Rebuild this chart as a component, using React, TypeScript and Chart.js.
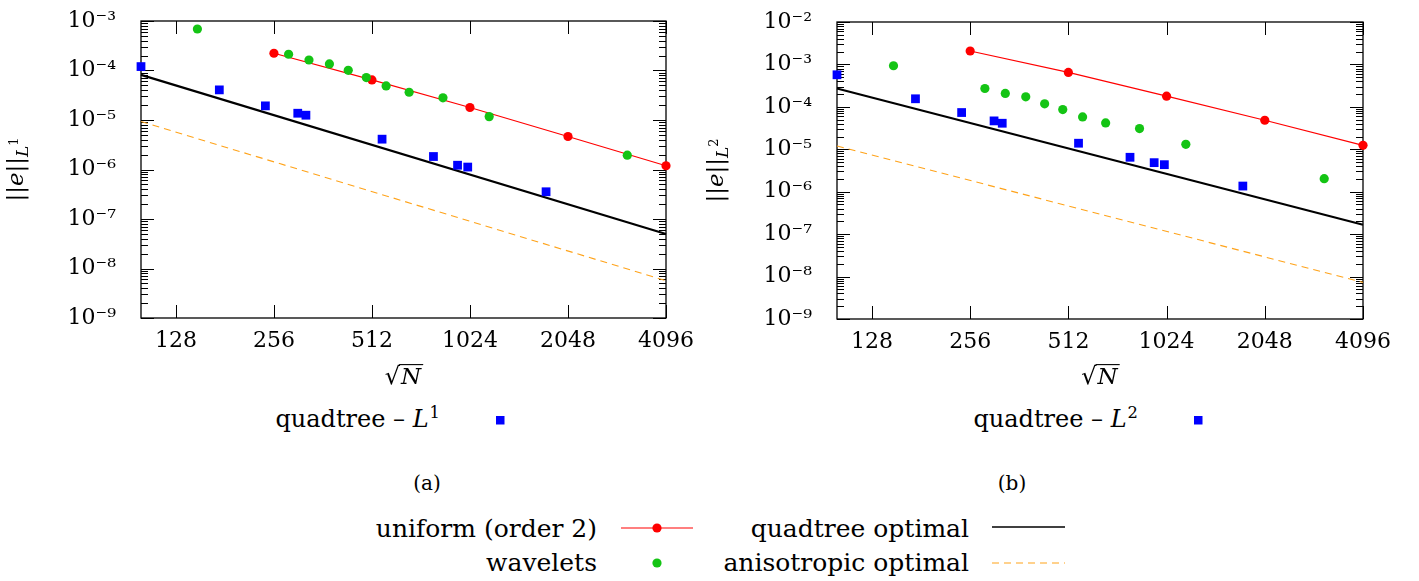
import React, { useEffect, useRef } from 'react';
import { Chart, registerables } from 'chart.js';

Chart.register(...registerables);

// ---------- data ----------
const xTickValues = [128, 256, 512, 1024, 2048, 4096];

const uniformX = [256, 512, 1024, 2048, 4096];
const uniformL1 = [2.23e-4, 6.45e-5, 1.79e-5, 4.64e-6, 1.19e-6];
const uniformL2 = [2.07e-3, 6.47e-4, 1.79e-4, 4.84e-5, 1.24e-5];

const waveletsX = [149, 284, 328, 379, 433, 492, 566, 666, 846, 1173, 3115];
const waveletsL1 = [6.9e-4, 2.13e-4, 1.63e-4, 1.36e-4, 1.01e-4, 7.2e-5, 4.89e-5, 3.64e-5, 2.8e-5, 1.17e-5, 1.95e-6];
const waveletsL2 = [9.3e-4, 2.71e-4, 2.07e-4, 1.72e-4, 1.18e-4, 8.65e-5, 5.8e-5, 4.19e-5, 3.08e-5, 1.31e-5, 2.03e-6];

const quadtreeX = [100, 174, 241, 303, 321, 550, 791, 938, 1008, 1754];
const quadtreeL1 = [1.2e-4, 4.06e-5, 1.93e-5, 1.37e-5, 1.25e-5, 4.1e-6, 1.83e-6, 1.22e-6, 1.12e-6, 3.55e-7];
const quadtreeL2 = [5.7e-4, 1.55e-4, 7.35e-5, 4.67e-5, 4.11e-5, 1.39e-5, 6.48e-6, 4.84e-6, 4.34e-6, 1.36e-6];

const refX = [100, 4096];
const quadOptL1 = [8.15e-5, 4.97e-8];
const quadOptL2 = [2.71e-4, 1.66e-7];
const anisoOptL1 = [9.3e-6, 5.67e-9];
const anisoOptL2 = [1.2e-5, 7.3e-9];

// ---------- styles ----------
const FONT = '"DejaVu Serif", serif';
const RED = '#ff0000';
const GREEN = '#14c414';
const BLUE = '#0000ff';
const ORANGE = '#ffa31a';

const SUP: Record<string, string> = {
  '-': '⁻', '0': '⁰', '1': '¹', '2': '²', '3': '³', '4': '⁴',
  '5': '⁵', '6': '⁶', '7': '⁷', '8': '⁸', '9': '⁹',
};
const toSup = (s: string) => s.split('').map((c) => SUP[c] || c).join('');

const pts = (xs: number[], ys: number[]) => xs.map((x, i) => ({ x, y: ys[i] }));

function logTicks(min: number, max: number) {
  const out: { value: number; major: boolean }[] = [];
  const e0 = Math.floor(Math.log10(min));
  const e1 = Math.ceil(Math.log10(max));
  for (let e = e0; e <= e1; e++) {
    for (let k = 1; k <= 9; k++) {
      const v = k * Math.pow(10, e);
      if (v >= min * 0.999 && v <= max * 1.001) out.push({ value: v, major: k === 1 });
    }
  }
  return out;
}

const isPow10 = (v: number) => {
  const l = Math.log10(v);
  return Math.abs(l - Math.round(l)) < 1e-6;
};

// frame + inward ticks, drawn beneath the data marks
const framePlugin = {
  id: 'frameTicks',
  beforeDatasetsDraw(chart: any) {
    const ctx = chart.ctx;
    const { left, right, top, bottom } = chart.chartArea;
    const ys = chart.scales.y;
    const xs = chart.scales.x;
    ctx.save();
    ctx.strokeStyle = '#000';
    ctx.lineWidth = 1;
    ctx.beginPath();
    for (const t of ys.ticks) {
      const py = Math.round(ys.getPixelForValue(t.value)) + 0.5;
      const len = isPow10(t.value) ? 13 : 7;
      ctx.moveTo(left, py);
      ctx.lineTo(left + len, py);
      ctx.moveTo(right, py);
      ctx.lineTo(right - len, py);
    }
    for (const t of xs.ticks) {
      const px = Math.round(xs.getPixelForValue(t.value)) + 0.5;
      ctx.moveTo(px, bottom);
      ctx.lineTo(px, bottom - 13);
      ctx.moveTo(px, top);
      ctx.lineTo(px, top + 13);
    }
    ctx.stroke();
    ctx.lineWidth = 1.3;
    ctx.strokeRect(left, top, right - left, bottom - top);
    ctx.restore();
  },
};

// axis titles with math-like typesetting
const mathLabelPlugin = {
  id: 'mathLabels',
  afterDraw(chart: any, _args: any, opts: any) {
    const ctx = chart.ctx;
    const ca = chart.chartArea;
    ctx.save();
    ctx.fillStyle = '#000';
    ctx.strokeStyle = '#000';
    ctx.textBaseline = 'alphabetic';
    ctx.textAlign = 'left';
    const parts: any[] = [
      { t: '||', font: `23px ${FONT}`, dy: 0 },
      { t: 'e', font: `italic 23px ${FONT}`, dy: 0 },
      { t: '||', font: `23px ${FONT}`, dy: 0 },
      { t: 'L', font: `italic 17px ${FONT}`, dy: 5 },
      { t: opts.exp, font: `13px ${FONT}`, dy: -5 },
    ];
    let w = 0;
    for (const p of parts) {
      ctx.font = p.font;
      p.w = ctx.measureText(p.t).width;
      w += p.w;
    }
    ctx.save();
    ctx.translate(opts.yLabelX, (ca.top + ca.bottom) / 2);
    ctx.rotate(-Math.PI / 2);
    let x = -w / 2;
    for (const p of parts) {
      ctx.font = p.font;
      ctx.fillText(p.t, x, p.dy);
      x += p.w;
    }
    ctx.restore();

    // x title: sqrt(N)
    const upright = `24px ${FONT}`;
    const ital = `italic 23px ${FONT}`;
    ctx.font = upright;
    const rm = ctx.measureText('√');
    ctx.font = ital;
    const nw = ctx.measureText('N').width;
    const total = rm.width + nw + 2;
    const cx = (ca.left + ca.right) / 2;
    const x0 = cx - total / 2;
    const by = opts.xLabelY;
    ctx.font = upright;
    ctx.fillText('√', x0, by);
    ctx.font = ital;
    ctx.fillText('N', x0 + rm.width + 1, by);
    const topY = by - rm.actualBoundingBoxAscent + 0.6;
    ctx.lineWidth = 1.1;
    ctx.beginPath();
    ctx.moveTo(x0 + rm.width - 1, topY);
    ctx.lineTo(x0 + total + 1, topY);
    ctx.stroke();
    ctx.restore();
  },
};

type PanelProps = {
  left: number;
  width: number;
  height: number;
  yMax: number;
  padRight: number;
  padTop: number;
  yAxisW: number;
  xAxisH: number;
  exp: string;
  uniform: number[];
  wavelets: number[];
  quadtree: number[];
  quadOpt: number[];
  anisoOpt: number[];
};

function Panel(p: PanelProps) {
  const ref = useRef<HTMLCanvasElement>(null);
  useEffect(() => {
    if (!ref.current) return;
    const tickFont = { family: FONT, size: 22 };
    const chart = new Chart(ref.current, {
      type: 'scatter',
      data: {
        datasets: [
          {
            label: 'quadtree',
            data: pts(quadtreeX, p.quadtree),
            showLine: false,
            pointStyle: 'rect',
            pointRadius: 6.2,
            pointBackgroundColor: BLUE,
            pointBorderWidth: 0,
            clip: false,
            order: 0,
          },
          {
            label: 'wavelets',
            data: pts(waveletsX, p.wavelets),
            showLine: false,
            pointStyle: 'circle',
            pointRadius: 4.6,
            pointBackgroundColor: GREEN,
            pointBorderWidth: 0,
            clip: false,
            order: 1,
          },
          {
            label: 'uniform (order 2)',
            data: pts(uniformX, p.uniform),
            showLine: true,
            borderColor: RED,
            borderWidth: 1.2,
            pointStyle: 'circle',
            pointRadius: 4.6,
            pointBackgroundColor: RED,
            pointBorderWidth: 0,
            clip: false,
            order: 2,
          },
          {
            label: 'quadtree optimal',
            data: pts(refX, p.quadOpt),
            showLine: true,
            borderColor: '#000',
            borderWidth: 2.2,
            pointRadius: 0,
            clip: false,
            order: 3,
          },
          {
            label: 'anisotropic optimal',
            data: pts(refX, p.anisoOpt),
            showLine: true,
            borderColor: ORANGE,
            borderWidth: 1.1,
            borderDash: [7, 5],
            pointRadius: 0,
            clip: false,
            order: 4,
          },
        ] as any,
      },
      options: {
        animation: false,
        responsive: false,
        events: [],
        layout: { padding: { left: 0, right: p.padRight, top: p.padTop, bottom: 0 } },
        plugins: {
          legend: { display: false },
          tooltip: { enabled: false },
          mathLabels: { exp: p.exp, yLabelX: 23, xLabelY: 384 },
        } as any,
        scales: {
          x: {
            type: 'logarithmic',
            min: 100,
            max: 4096,
            afterBuildTicks: (s: any) => {
              s.ticks = xTickValues.map((v) => ({ value: v }));
            },
            afterFit: (s: any) => {
              s.height = p.xAxisH;
              s.paddingLeft = 0;
              s.paddingRight = 0;
            },
            grid: { display: false, drawTicks: false },
            border: { display: false },
            ticks: {
              autoSkip: false,
              maxRotation: 0,
              minRotation: 0,
              padding: 10,
              color: '#000',
              font: tickFont,
              callback: (v: any) => String(v),
            },
          },
          y: {
            type: 'logarithmic',
            min: 1e-9,
            max: p.yMax,
            afterBuildTicks: (s: any) => {
              s.ticks = logTicks(1e-9, p.yMax);
            },
            afterFit: (s: any) => {
              s.width = p.yAxisW;
              s.paddingTop = 0;
              s.paddingBottom = 0;
            },
            grid: { display: false, drawTicks: false },
            border: { display: false },
            ticks: {
              autoSkip: false,
              padding: 25,
              color: '#000',
              font: tickFont,
              callback: (v: any) => {
                const val = Number(v);
                if (!isPow10(val)) return '';
                return '10' + toSup(String(Math.round(Math.log10(val))));
              },
            },
          },
        } as any,
      },
      plugins: [framePlugin, mathLabelPlugin],
    } as any);
    return () => chart.destroy();
  }, []);
  return (
    <canvas
      ref={ref}
      width={p.width}
      height={p.height}
      style={{ position: 'absolute', left: p.left, top: 0, width: p.width, height: p.height }}
    />
  );
}

function TextAt(props: { right?: number; center?: number; baseline: number; size: number; children: any }) {
  const top = props.baseline - 0.846 * props.size;
  const style: any = {
    position: 'absolute',
    top,
    fontSize: props.size,
    lineHeight: `${props.size}px`,
    whiteSpace: 'nowrap',
    fontFamily: FONT,
    color: '#000',
  };
  if (props.right !== undefined) {
    style.right = 1419 - props.right;
    style.textAlign = 'right';
  } else if (props.center !== undefined) {
    style.left = props.center - 100;
    style.width = 200;
    style.textAlign = 'center';
  }
  return <div style={style}>{props.children}</div>;
}

const supStyle: any = { fontSize: '0.68em', position: 'relative', top: '-0.55em', marginLeft: 1 };

export default function App() {
  useEffect(() => {
    document.body.style.margin = '0';
  }, []);
  return (
    <div
      style={{
        position: 'absolute',
        left: 0,
        top: 0,
        width: 1419,
        height: 581,
        background: '#fff',
        overflow: 'hidden',
      }}
    >
      <Panel
        left={0}
        width={700}
        height={400}
        yMax={1e-3}
        padRight={34}
        padTop={21}
        yAxisW={141}
        xAxisH={82}
        exp="1"
        uniform={uniformL1}
        wavelets={waveletsL1}
        quadtree={quadtreeL1}
        quadOpt={quadOptL1}
        anisoOpt={anisoOptL1}
      />
      <Panel
        left={700}
        width={719}
        height={400}
        yMax={1e-2}
        padRight={56}
        padTop={22}
        yAxisW={137}
        xAxisH={81}
        exp="2"
        uniform={uniformL2}
        wavelets={waveletsL2}
        quadtree={quadtreeL2}
        quadOpt={quadOptL2}
        anisoOpt={anisoOptL2}
      />

      {/* per-panel legends */}
      <TextAt right={440} baseline={427} size={24}>
        quadtree – <i>L</i>
        <span style={supStyle}>1</span>
      </TextAt>
      <TextAt right={1138} baseline={427} size={24}>
        quadtree – <i>L</i>
        <span style={supStyle}>2</span>
      </TextAt>

      {/* captions */}
      <TextAt center={427} baseline={490} size={20}>(a)</TextAt>
      <TextAt center={1012} baseline={490} size={20}>(b)</TextAt>

      {/* shared legend */}
      <TextAt right={597} baseline={537} size={25}>uniform (order 2)</TextAt>
      <TextAt right={597} baseline={571} size={25}>wavelets</TextAt>
      <TextAt right={969} baseline={537} size={25}>quadtree optimal</TextAt>
      <TextAt right={969} baseline={571} size={25}>anisotropic optimal</TextAt>

      <svg
        width={1419}
        height={581}
        style={{ position: 'absolute', left: 0, top: 0, pointerEvents: 'none' }}
      >
        <rect x={496} y={416} width={8.5} height={8.5} fill={BLUE} />
        <rect x={1194} y={416} width={8.5} height={8.5} fill={BLUE} />
        <line x1={621} y1={528} x2={693} y2={528} stroke={RED} strokeWidth={1.2} />
        <circle cx={657} cy={528} r={4.6} fill={RED} />
        <circle cx={657} cy={563} r={4.6} fill={GREEN} />
        <line x1={992} y1={527} x2={1065} y2={527} stroke="#000" strokeWidth={1.4} />
        <line x1={992} y1={563} x2={1065} y2={563} stroke={ORANGE} strokeWidth={1.1} strokeDasharray="7 5" />
      </svg>
    </div>
  );
}
